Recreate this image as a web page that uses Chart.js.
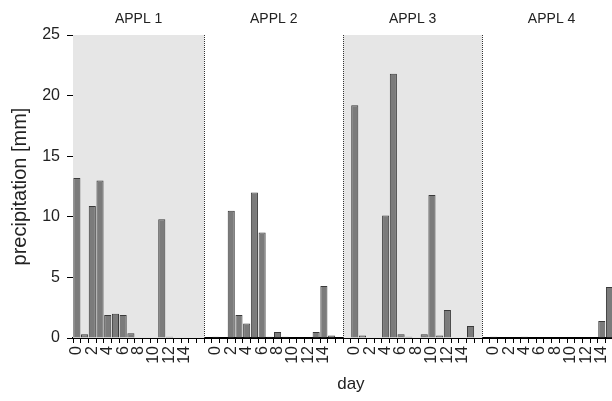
<!DOCTYPE html>
<html>
<head>
<meta charset="utf-8">
<script src="https://cdn.jsdelivr.net/npm/chart.js@4"></script>
<style>
  html, body { margin: 0; padding: 0; background: #fff; overflow: hidden; }
  #wrap { width: 612px; height: 401px; overflow: hidden; position: relative; }
  #c { position: absolute; left: 0; top: 0; }
</style>
</head>
<body>
<div id="wrap"><canvas id="c" width="640" height="401"></canvas></div>
<script>
// Daily precipitation (mm) after each application, days 0..15
const panelTitles = ['APPL 1', 'APPL 2', 'APPL 3', 'APPL 4'];
const dayTicks = ['0', '', '2', '', '4', '', '6', '', '8', '', '10', '', '12', '', '14', '', '', ''];
const appl1 = [13.2, 0.3, 10.9, 13.0, 1.9, 2.0, 1.9, 0.4, 0, 0, 0, 9.8, 0.1, 0, 0, 0];
const appl2 = [0.1, 0, 10.5, 1.9, 1.2, 12.0, 8.7, 0.1, 0.5, 0.1, 0, 0, 0, 0.5, 4.3, 0.2];
const appl3 = [19.2, 0.2, 0, 0, 10.1, 21.8, 0.3, 0.1, 0, 0.3, 11.8, 0.2, 2.3, 0, 0, 1.0];
const appl4 = [0.1, 0, 0, 0, 0.1, 0, 0, 0, 0, 0, 0, 0, 0, 0, 1.4, 4.2];
const yTicks = [0, 5, 10, 15, 20, 25];

const series = [appl1, appl2, appl3, appl4];
const SLOTS = dayTicks.length; // 16 days + 2 spacer slots per panel

// one continuous category axis: each panel owns SLOTS categories
const labels = [];
const values = [];
series.forEach(s => {
  dayTicks.forEach((t, i) => {
    labels.push(t);
    values.push(i < s.length ? s[i] : null);
  });
});

Chart.defaults.font.family = "'Liberation Sans', Arial, sans-serif";
Chart.defaults.color = '#222';

// shaded panels, dotted separators and panel headings
const panels = {
  id: 'panels',
  beforeDatasetsDraw(chart) {
    const { ctx, chartArea: a, scales: { x } } = chart;
    ctx.save();
    series.forEach((s, p) => {
      if (p % 2 !== 0) return;
      const x0 = p === 0 ? a.left : x.getPixelForValue(SLOTS * p - 1.5);
      const x1 = Math.min(x.getPixelForValue(SLOTS * p + 16.5), a.right);
      ctx.fillStyle = '#e6e6e6';
      ctx.fillRect(x0, a.top, x1 - x0, a.bottom - a.top);
    });
    ctx.restore();
  },
  afterDatasetsDraw(chart) {
    const { ctx, chartArea: a, scales: { x } } = chart;
    ctx.save();
    ctx.strokeStyle = '#333';
    ctx.lineWidth = 1;
    ctx.setLineDash([1, 1]);
    series.forEach((s, p) => {
      const xb = Math.round(x.getPixelForValue(SLOTS * p + 16.5)) + 0.5;
      if (xb < a.right) {
        ctx.beginPath();
        ctx.moveTo(xb, a.top);
        ctx.lineTo(xb, a.bottom);
        ctx.stroke();
      }
    });
    ctx.setLineDash([]);
    ctx.fillStyle = '#222';
    ctx.font = "14px 'Liberation Sans', Arial, sans-serif";
    ctx.textAlign = 'center';
    ctx.textBaseline = 'middle';
    series.forEach((s, p) => {
      const x0 = p === 0 ? a.left : x.getPixelForValue(SLOTS * p - 1.5);
      const x1 = x.getPixelForValue(SLOTS * p + 16.5);
      ctx.fillText(panelTitles[p], (x0 + x1) / 2, 19);
    });
    ctx.restore();
  }
};

new Chart(document.getElementById('c'), {
  type: 'bar',
  data: {
    labels: labels,
    datasets: [{
      data: values,
      backgroundColor: '#7b7b7b',
      borderColor: '#3a3a3a',
      borderWidth: 1,
      barPercentage: 1,
      categoryPercentage: 0.92
    }]
  },
  options: {
    responsive: false,
    animation: false,
    devicePixelRatio: 1,
    layout: { padding: { top: 35, right: 11.2, left: 0, bottom: 0 } },
    plugins: { legend: { display: false }, tooltip: { enabled: false } },
    scales: {
      x: {
        type: 'category',
        offset: true,
        border: { color: '#000', width: 2 },
        grid: { drawOnChartArea: false, drawTicks: true, tickLength: 5, color: '#000', offset: true },
        ticks: {
          autoSkip: false, minRotation: 90, maxRotation: 90, padding: 3,
          font: { size: 16 }, color: '#222'
        },
        title: { display: true, text: 'day', font: { size: 17 }, color: '#222', padding: { top: 0, bottom: 6 } },
        afterFit(scale) {
          scale.height = 63;
          scale.paddingLeft = 0;
          scale.paddingRight = 0;
        }
      },
      y: {
        min: 0, max: 25,
        border: { color: '#000', width: 1 },
        grid: { drawOnChartArea: false, drawTicks: true, tickLength: 6, color: '#000' },
        afterBuildTicks(scale) { scale.ticks = yTicks.map(v => ({ value: v })); },
        ticks: { font: { size: 16 }, color: '#222', padding: 7 },
        title: { display: true, text: 'precipitation [mm]', font: { size: 20 }, color: '#222', padding: { top: 8, bottom: 0 } },
        afterFit(scale) { scale.width = 73; }
      }
    }
  },
  plugins: [panels]
});
</script>
</body>
</html>
